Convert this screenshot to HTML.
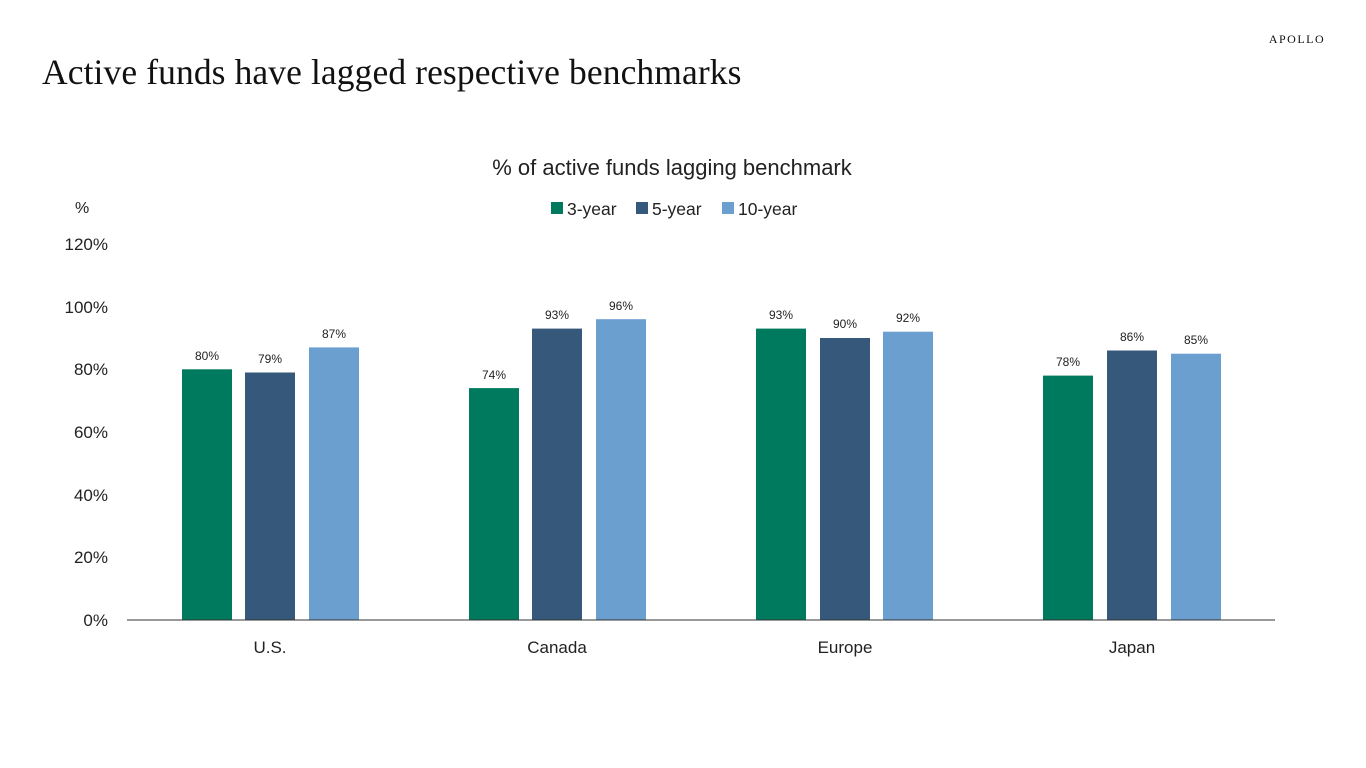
<!DOCTYPE html>
<html><head><meta charset="utf-8"><style>
html,body{margin:0;padding:0;background:#fff;width:1366px;height:768px;overflow:hidden}
</style></head><body>
<svg width="1366" height="768" xmlns="http://www.w3.org/2000/svg" font-family="Liberation Sans, sans-serif">
<text x="1297" y="43" text-anchor="middle" font-family="Liberation Serif, serif" font-size="12" letter-spacing="1.5" fill="#111">APOLLO</text>
<text x="42" y="84" font-family="Liberation Serif, serif" font-size="35.5" letter-spacing="0.1" fill="#111">Active funds have lagged respective benchmarks</text>
<text x="672" y="175" text-anchor="middle" font-size="22" fill="#222">% of active funds lagging benchmark</text>
<rect x="551" y="202" width="12" height="12" fill="#007A5E"/><text x="567" y="215" font-size="17.5" fill="#222">3-year</text>
<rect x="636" y="202" width="12" height="12" fill="#36587A"/><text x="652" y="215" font-size="17.5" fill="#222">5-year</text>
<rect x="722" y="202" width="12" height="12" fill="#6A9FD0"/><text x="738" y="215" font-size="17.5" fill="#222">10-year</text>
<text x="75" y="213" font-size="16" fill="#222">%</text>
<g font-size="17" fill="#222" text-anchor="end">
<text x="108" y="626">0%</text><text x="108" y="563">20%</text><text x="108" y="501">40%</text>
<text x="108" y="438">60%</text><text x="108" y="375">80%</text><text x="108" y="313">100%</text><text x="108" y="250">120%</text>
</g>
<g font-size="12" fill="#222" text-anchor="middle">
<rect x="182" y="369.3" width="50" height="250.7" fill="#007A5E"/><text x="207" y="360">80%</text>
<rect x="245" y="372.5" width="50" height="247.5" fill="#36587A"/><text x="270" y="363">79%</text>
<rect x="309" y="347.4" width="50" height="272.6" fill="#6A9FD0"/><text x="334" y="338">87%</text>
<rect x="469" y="388.1" width="50" height="231.9" fill="#007A5E"/><text x="494" y="379">74%</text>
<rect x="532" y="328.6" width="50" height="291.4" fill="#36587A"/><text x="557" y="319">93%</text>
<rect x="596" y="319.2" width="50" height="300.8" fill="#6A9FD0"/><text x="621" y="310">96%</text>
<rect x="756" y="328.6" width="50" height="291.4" fill="#007A5E"/><text x="781" y="319">93%</text>
<rect x="820" y="338" width="50" height="282" fill="#36587A"/><text x="845" y="328">90%</text>
<rect x="883" y="331.7" width="50" height="288.3" fill="#6A9FD0"/><text x="908" y="322">92%</text>
<rect x="1043" y="375.6" width="50" height="244.4" fill="#007A5E"/><text x="1068" y="366">78%</text>
<rect x="1107" y="350.5" width="50" height="269.5" fill="#36587A"/><text x="1132" y="341">86%</text>
<rect x="1171" y="353.7" width="50" height="266.3" fill="#6A9FD0"/><text x="1196" y="344">85%</text>
</g>
<line x1="127" y1="620" x2="1275" y2="620" stroke="#333" stroke-width="1"/>
<g font-size="17" fill="#222" text-anchor="middle">
<text x="270" y="653">U.S.</text><text x="557" y="653">Canada</text><text x="845" y="653">Europe</text><text x="1132" y="653">Japan</text>
</g>
</svg>
</body></html>
